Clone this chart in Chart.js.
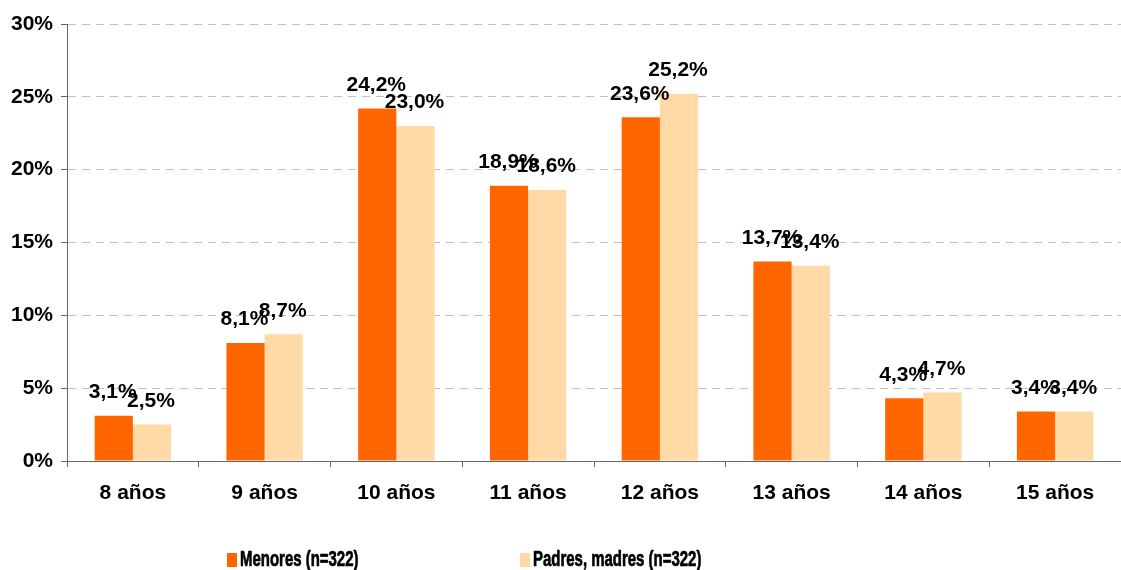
<!DOCTYPE html>
<html>
<head>
<meta charset="utf-8">
<script src="https://cdn.jsdelivr.net/npm/chart.js@4.4.0/dist/chart.umd.min.js"></script>
<style>
  html, body { margin: 0; padding: 0; background: #fff; }
  #wrap { width: 1121px; height: 570px; }
</style>
</head>
<body>
<div id="wrap"><canvas id="myChart" width="1121" height="570"></canvas></div>
<script>
const categories = ['8 años', '9 años', '10 años', '11 años', '12 años', '13 años', '14 años', '15 años'];
const menores = [3.1, 8.1, 24.2, 18.9, 23.6, 13.7, 4.3, 3.4];
const padres = [2.5, 8.7, 23.0, 18.6, 25.2, 13.4, 4.7, 3.4];
const seriesNames = ['Menores (n=322)', 'Padres, madres (n=322)'];

const fontFamily = '"Liberation Sans", Arial, sans-serif';

// etiquetas encima de cada barra
const valueLabels = {
    id: 'valueLabels',
    afterDatasetsDraw(chart) {
        const { ctx } = chart;
        ctx.save();
        ctx.font = 'bold 21px ' + fontFamily;
        ctx.fillStyle = '#000';
        ctx.textAlign = 'center';
        ctx.textBaseline = 'bottom';
        chart.data.datasets.forEach((ds, i) => {
            chart.getDatasetMeta(i).data.forEach((bar, j) => {
                const txt = ds.data[j].toFixed(1).replace('.', ',') + '%';
                ctx.fillText(txt, bar.x - 1, bar.y - 13);
            });
        });
        ctx.restore();
    }
};

// leyenda abajo (texto estrecho, como Arial Narrow)
const bottomLegend = {
    id: 'bottomLegend',
    afterDraw(chart) {
        const { ctx } = chart;
        const xs = [227, 520];
        const y = 560;
        ctx.save();
        ctx.font = 'bold 22px ' + fontFamily;
        ctx.textBaseline = 'middle';
        ctx.textAlign = 'left';
        chart.data.datasets.forEach((ds, i) => {
            ctx.fillStyle = ds.backgroundColor;
            ctx.fillRect(xs[i], y - 7, 10, 14);
            ctx.fillStyle = '#000';
            ctx.strokeStyle = '#000';
            ctx.lineWidth = 0.7;
            ctx.save();
            ctx.translate(xs[i] + 13, y);
            ctx.scale(0.68, 1);
            ctx.fillText(ds.label, 0, 0);
            ctx.strokeText(ds.label, 0, 0);
            ctx.restore();
        });
        ctx.restore();
    }
};

const ctx = document.getElementById('myChart');

new Chart(ctx, {
    type: 'bar',
    data: {
        labels: categories,
        datasets: [{
            label: seriesNames[0],
            data: menores,
            backgroundColor: '#FF6600'
        }, {
            label: seriesNames[1],
            data: padres,
            backgroundColor: '#FFDAA6'
        }]
    },
    options: {
        responsive: false,
        animation: false,
        layout: { padding: { top: 24, right: 0, bottom: 0, left: 0 } },
        datasets: {
            bar: { barPercentage: 1, categoryPercentage: 0.58 }
        },
        plugins: {
            legend: { display: false },
            tooltip: { enabled: false }
        },
        scales: {
            x: {
                grid: {
                    display: true,
                    drawOnChartArea: false,
                    tickLength: 6,
                    color: '#666'
                },
                border: { color: '#666', width: 1 },
                ticks: {
                    color: '#000',
                    font: { family: fontFamily, size: 21, weight: 'bold' },
                    padding: 14,
                    maxRotation: 0
                },
                afterFit(scale) { scale.height = 109; }
            },
            y: {
                min: 0,
                max: 30,
                ticks: {
                    stepSize: 5,
                    color: '#000',
                    padding: 8,
                    font: { family: fontFamily, size: 21, weight: 'bold' },
                    callback: (v) => v + '%'
                },
                grid: {
                    color: '#C0C0C0',
                    tickColor: '#666',
                    tickLength: 6
                },
                border: { color: '#666', width: 1, dash: [8, 6] },
                afterFit(scale) { scale.width = 67; }
            }
        }
    },
    plugins: [valueLabels, bottomLegend]
});
</script>
</body>
</html>
